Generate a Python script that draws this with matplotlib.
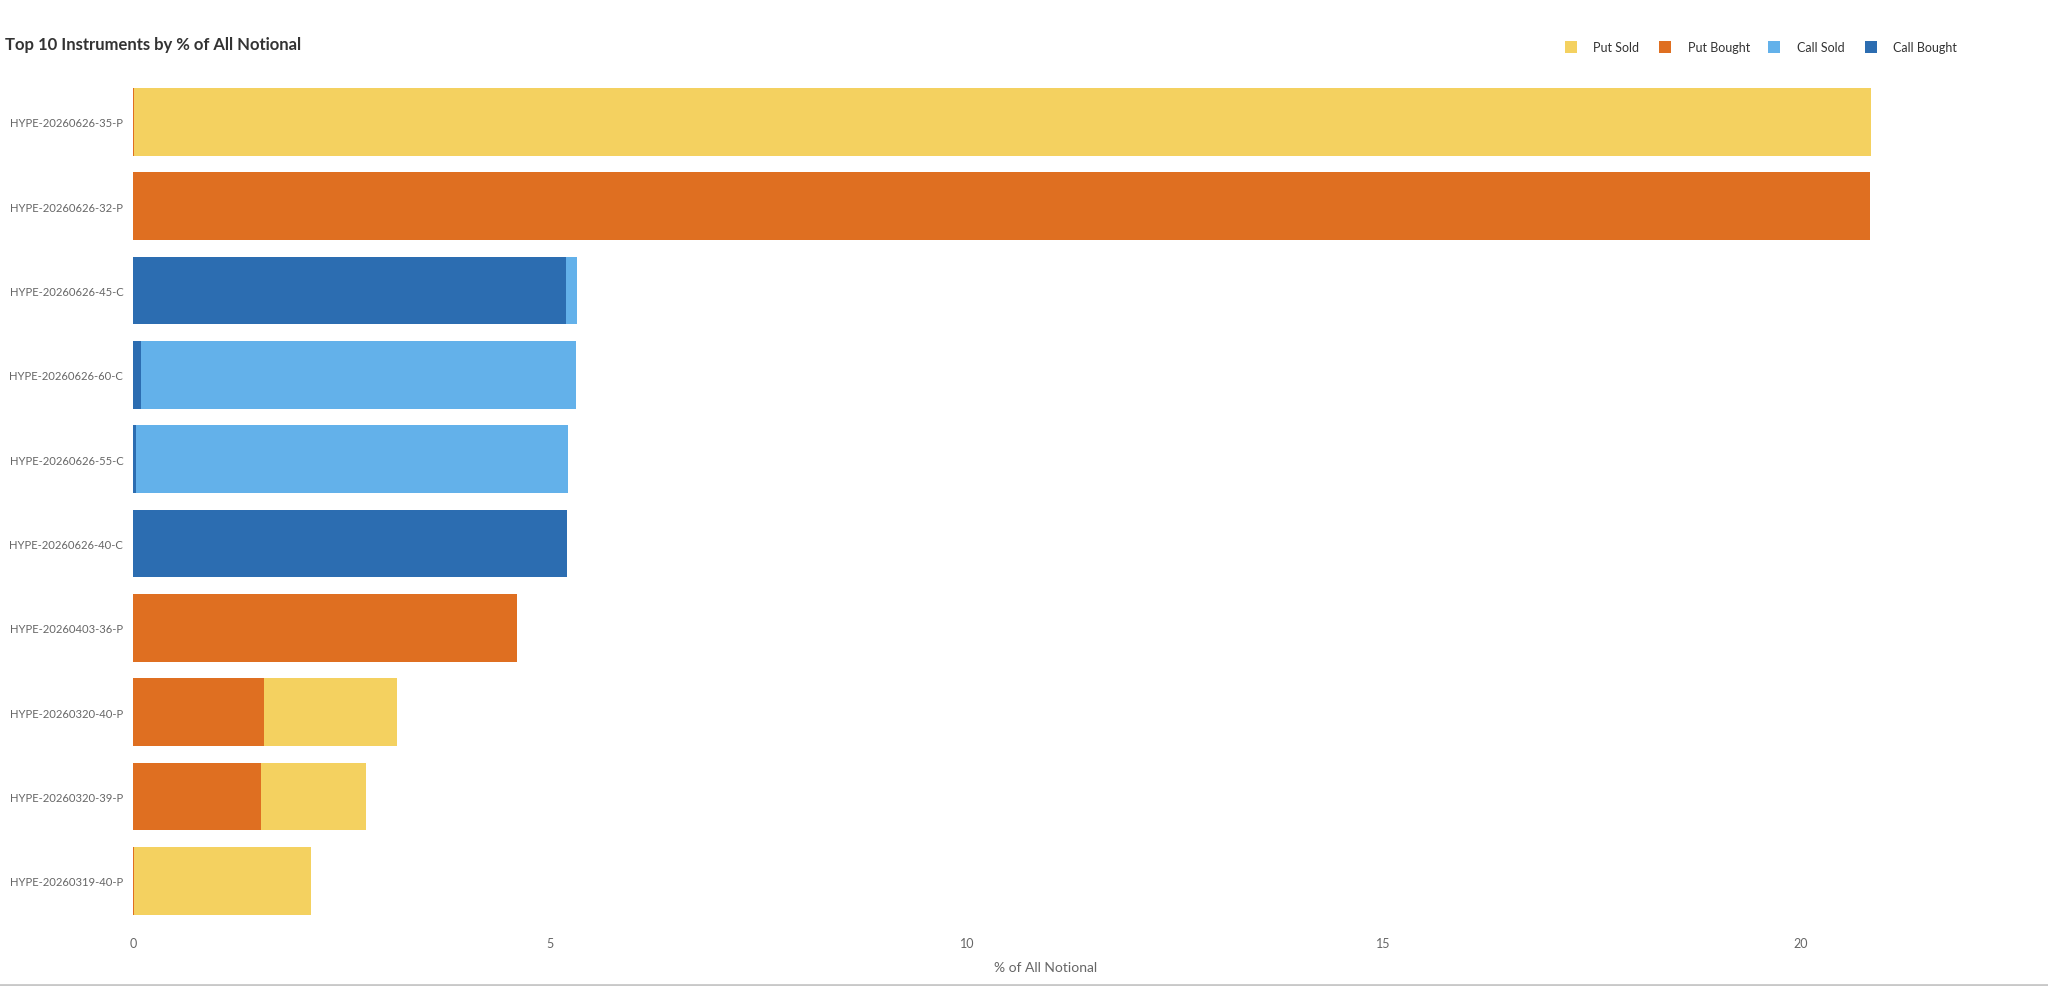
import matplotlib
matplotlib.use("Agg")
import matplotlib.pyplot as plt
from matplotlib.patches import Rectangle
import numpy as np

plt.rcParams['font.family'] = ['Lato', 'DejaVu Sans']

# Datos (% del nocional total)
instrumentos = [
    "HYPE-20260626-35-P",
    "HYPE-20260626-32-P",
    "HYPE-20260626-45-C",
    "HYPE-20260626-60-C",
    "HYPE-20260626-55-C",
    "HYPE-20260626-40-C",
    "HYPE-20260403-36-P",
    "HYPE-20260320-40-P",
    "HYPE-20260320-39-P",
    "HYPE-20260319-40-P",
]
call_bought = [0.0, 0.0, 5.19, 0.09, 0.03, 5.20, 0.0, 0.0, 0.0, 0.0]
call_sold = [0.0, 0.0, 0.14, 5.22, 5.19, 0.0, 0.0, 0.0, 0.0, 0.0]
put_bought = [0.01, 20.83, 0.0, 0.0, 0.0, 0.0, 4.61, 1.57, 1.53, 0.01]
put_sold = [20.83, 0.0, 0.0, 0.0, 0.0, 0.0, 0.0, 1.60, 1.26, 2.13]

# Orden de apilado (izquierda a derecha) y orden de la leyenda
series = [
    ("Call Bought", call_bought, "#2c6db1"),
    ("Call Sold", call_sold, "#63b1ea"),
    ("Put Bought", put_bought, "#df6f21"),
    ("Put Sold", put_sold, "#f4d160"),
]
orden_leyenda = ["Put Sold", "Put Bought", "Call Sold", "Call Bought"]

W, H = 2048, 987
fig = plt.figure(figsize=(W / 100, H / 100), dpi=100)
ax = fig.add_axes([133 / W, 1 - 924 / H, (1959 - 133) / W, (924 - 80.6) / H])

y = np.arange(len(instrumentos))
izq = np.zeros(len(instrumentos))
colores = {}
for nombre, valores, color in series:
    ax.barh(y, valores, left=izq, height=0.8, color=color, linewidth=0)
    izq += np.array(valores)
    colores[nombre] = color

ax.set_ylim(len(instrumentos) - 0.5, -0.5)
ax.set_xlim(0, 21.9)
ax.set_yticks(y)
ax.set_yticklabels(instrumentos)
ax.set_xticks([0, 5, 10, 15, 20])
ax.tick_params(axis="y", length=0, pad=7, labelsize=8.1, labelcolor="#666666")
ax.tick_params(axis="x", length=0, pad=10, labelsize=9, labelcolor="#666666")
ax.set_xlabel("% of All Notional", fontsize=10, color="#666666", labelpad=9)
for s in ax.spines.values():
    s.set_visible(False)

fig.text(5 / W, 1 - 45 / H, "Top 10 Instruments by % of All Notional",
         fontsize=12, fontweight="bold", color="#333333", va="center", ha="left")

# Leyenda manual arriba a la derecha
cuadros_x = [1565, 1659, 1768, 1864.5]
textos_x = [1592.6, 1687.7, 1797, 1893]
ly = 48
for nombre, cx, tx in zip(orden_leyenda, cuadros_x, textos_x):
    fig.patches.append(Rectangle((cx / W, 1 - (ly + 6) / H), 12 / W, 12 / H,
                                 transform=fig.transFigure, color=colores[nombre],
                                 linewidth=0))
    fig.text(tx / W, 1 - ly / H, nombre, fontsize=9, color="#333333",
             va="center", ha="left")

# Línea gris inferior del marco
fig.add_artist(plt.Line2D([0, 1], [1 - 985.5 / H] * 2, color="#c8c8c8", linewidth=2,
                          transform=fig.transFigure))

fig.savefig("out.png", dpi=100)
